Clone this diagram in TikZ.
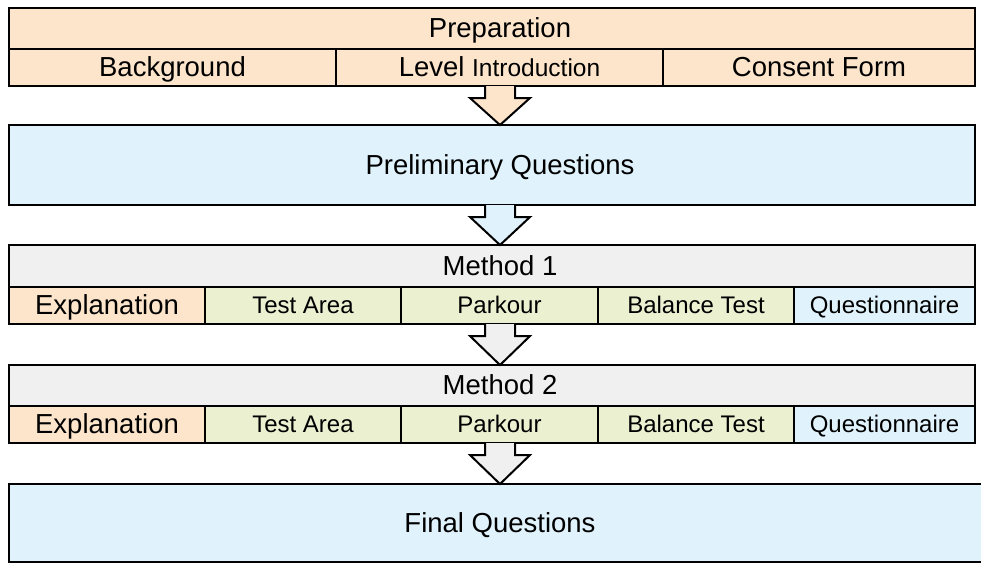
\documentclass[tikz,border=0pt]{standalone}
\usepackage{fontspec}
\setmainfont{Liberation Sans}
\usetikzlibrary{calc}
\definecolor{prepc}{HTML}{FCE5CB}
\definecolor{bluec}{HTML}{E0F3FC}
\definecolor{grayc}{HTML}{F0F0F0}
\definecolor{greenc}{HTML}{EBF0D0}
\newcommand\bigtxt{\fontsize{27.5}{31}\selectfont}
\newcommand\smalltxt{\fontsize{24}{28}\selectfont}
\newcommand\blockarrow[3]{%
  \path let \p1=(#1), \p2=(#2) in
    [fill=#3] ({\x1-15pt},{\y1}) -- ({\x1-15pt},{\y1-12pt}) -- ({\x1-30pt},{\y1-12pt}) -- ({\x1},{\y2}) -- ({\x1+30pt},{\y1-12pt}) -- ({\x1+15pt},{\y1-12pt}) -- ({\x1+15pt},{\y1});
  \path let \p1=(#1), \p2=(#2) in
    [draw=black, line width=2pt, line join=miter] ({\x1-15pt},{\y1}) -- ({\x1-15pt},{\y1-12pt}) -- ({\x1-30pt},{\y1-12pt}) -- ({\x1},{\y2}) -- ({\x1+30pt},{\y1-12pt}) -- ({\x1+15pt},{\y1-12pt}) -- ({\x1+15pt},{\y1});
}
\begin{document}
\begin{tikzpicture}[x=1pt,y=-1pt,
  cell/.style={draw=black, line width=2pt, anchor=north west, inner sep=0pt, outer sep=0pt, text=black},
  big/.style={font=\bigtxt, text height=23.5pt, text depth=5.5pt},
  small/.style={font=\smalltxt, text height=21pt, text depth=5pt},
  lbl/.style={big, text=black, inner sep=0pt}]
\clip (0,0) rectangle (981,563);
\fill[white] (0,0) rectangle (981,563);
% Preparation
\node[cell, fill=prepc, minimum width=966pt, minimum height=41pt] (prep) at (9,8) {};
\node[lbl] (preptxt) at (500,0 |- prep.center) {Preparation};
\node[cell, big, fill=prepc, minimum width=327pt, minimum height=37pt] (bg) at (9,49) {Background};
\node[cell, big, fill=prepc, minimum width=327pt, minimum height=37pt] (lvl) at (336,49) {Level {\fontsize{24.5}{28}\selectfont Introduction}};
\node[cell, big, fill=prepc, minimum width=312pt, minimum height=37pt] (cons) at (663,49) {Consent Form};
\draw[line width=2.5pt] (prep.north west) rectangle (cons.south east);
% Preliminary
\node[cell, fill=bluec, minimum width=966pt, minimum height=80pt, line width=2.5pt] (prelim) at (9,125) {};
\node[lbl] (prelimtxt) at (500,0 |- prelim.center) {Preliminary Questions};
% Method 1
\node[cell, fill=grayc, minimum width=966pt, minimum height=42pt] (m1) at (9,245) {};
\node[lbl] (m1txt) at (500,0 |- m1.center) {Method 1};
\node[cell, big, fill=prepc, minimum width=196pt, minimum height=37pt] (m1e) at (9,287) {Explanation};
\node[cell, small, fill=greenc, minimum width=196pt, minimum height=37pt] (m1t) at (205,287) {Test Area};
\node[cell, small, fill=greenc, minimum width=197pt, minimum height=37pt] (m1p) at (401,287) {Parkour};
\node[cell, small, fill=greenc, minimum width=196pt, minimum height=37pt] (m1b) at (598,287) {Balance Test};
\node[cell, small, fill=bluec, minimum width=181pt, minimum height=37pt] (m1q) at (794,287) {Questionnaire};
\draw[line width=2.5pt] (m1.north west) rectangle (m1q.south east);
% Method 2
\node[cell, fill=grayc, minimum width=966pt, minimum height=41pt] (m2) at (9,365) {};
\node[lbl] (m2txt) at (500,0 |- m2.center) {Method 2};
\node[cell, big, fill=prepc, minimum width=196pt, minimum height=37pt] (m2e) at (9,406) {Explanation};
\node[cell, small, fill=greenc, minimum width=196pt, minimum height=37pt] (m2t) at (205,406) {Test Area};
\node[cell, small, fill=greenc, minimum width=197pt, minimum height=37pt] (m2p) at (401,406) {Parkour};
\node[cell, small, fill=greenc, minimum width=196pt, minimum height=37pt] (m2b) at (598,406) {Balance Test};
\node[cell, small, fill=bluec, minimum width=181pt, minimum height=37pt] (m2q) at (794,406) {Questionnaire};
\draw[line width=2.5pt] (m2.north west) rectangle (m2q.south east);
% Final
\node[cell, fill=bluec, minimum width=985pt, minimum height=78pt, line width=2.5pt] (final) at (9,484) {};
\node[lbl] (finaltxt) at (500,0 |- final.center) {Final Questions};
% Arrows
\coordinate (a1t) at (500,0 |- lvl.south);  \coordinate (a1b) at (500,0 |- prelim.north);
\coordinate (a2t) at (500,0 |- prelim.south); \coordinate (a2b) at (500,0 |- m1.north);
\coordinate (a3t) at (500,0 |- m1p.south); \coordinate (a3b) at (500,0 |- m2.north);
\coordinate (a4t) at (500,0 |- m2p.south); \coordinate (a4b) at (500,0 |- final.north);
\blockarrow{a1t}{a1b}{prepc}
\blockarrow{a2t}{a2b}{bluec}
\blockarrow{a3t}{a3b}{grayc}
\blockarrow{a4t}{a4b}{grayc}
\end{tikzpicture}
\end{document}
